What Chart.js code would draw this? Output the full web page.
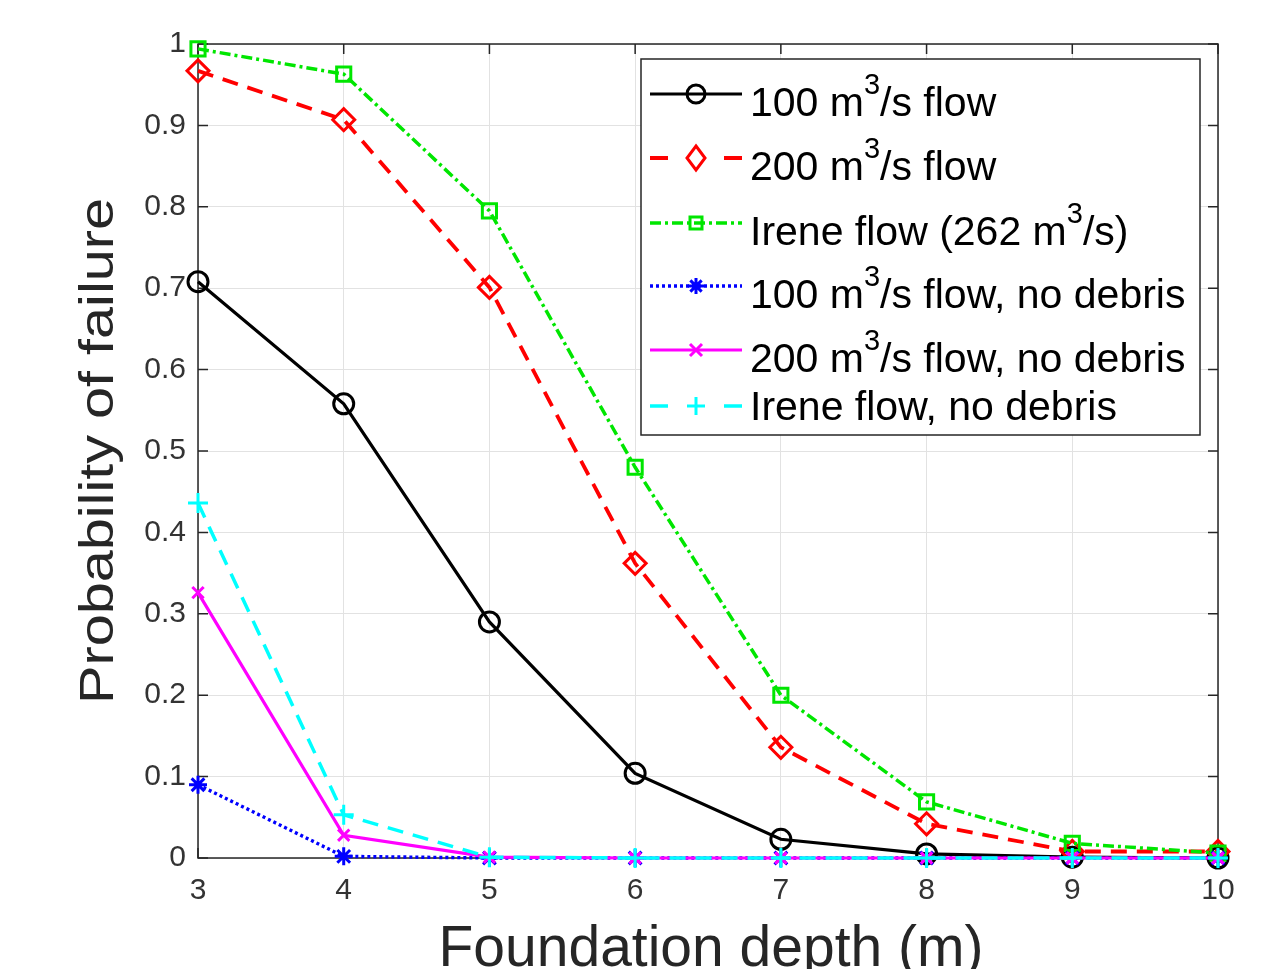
<!DOCTYPE html>
<html>
<head>
<meta charset="utf-8">
<script src="https://cdn.jsdelivr.net/npm/chart.js@4.4.1/dist/chart.umd.min.js"></script>
<style>
html,body{margin:0;padding:0;background:#fff;}
canvas{display:block;}
</style>
</head>
<body>
<canvas id="c" width="1273" height="969"></canvas>
<script>
// ---- Data ----
const depths = ['3', '4', '5', '6', '7', '8', '9', '10'];
const flow100 = [0.708, 0.558, 0.290, 0.104, 0.023, 0.005, 0.001, 0.000];
const flow200 = [0.967, 0.907, 0.701, 0.362, 0.136, 0.042, 0.008, 0.008];
const flowIrene = [0.994, 0.963, 0.795, 0.480, 0.200, 0.069, 0.018, 0.006];
const flow100NoDebris = [0.090, 0.002, 0.000, 0.000, 0.000, 0.000, 0.000, 0.000];
const flow200NoDebris = [0.326, 0.028, 0.001, 0.000, 0.000, 0.000, 0.000, 0.000];
const flowIreneNoDebris = [0.436, 0.053, 0.001, 0.000, 0.000, 0.000, 0.000, 0.000];
const yTickLabels = ['0', '0.1', '0.2', '0.3', '0.4', '0.5', '0.6', '0.7', '0.8', '0.9', '1'];
const legendLabels = [
  '100 m^3/s flow',
  '200 m^3/s flow',
  'Irene flow (262 m^3/s)',
  '100 m^3/s flow, no debris',
  '200 m^3/s flow, no debris',
  'Irene flow, no debris'
];
const xTitle = 'Foundation depth (m)';
const yTitle = 'Probability of failure';

const FONT = '"Liberation Sans", Arial, Helvetica, sans-serif';
const AX = '#262626';

const series = [
  {data: flow100, color: '#000000', dash: [], width: 3.2, style: 'circle', r: 10, lstyle: 'circle', lr: 9},
  {data: flow200, color: '#ff0000', dash: [16, 10], width: 3.8, style: 'rectRot', r: 11, lstyle: 'diamond', lr: 12},
  {data: flowIrene, color: '#00e600', dash: [11, 4, 3, 4], width: 3.5, style: 'rect', r: 10, lstyle: 'square', lr: 6},
  {data: flow100NoDebris, color: '#0000ff', dash: [3, 3], width: 3.4, style: 'star', r: 9, lstyle: 'star', lr: 8},
  {data: flow200NoDebris, color: '#ff00ff', dash: [], width: 3.2, style: 'crossRot', r: 8, lstyle: 'x', lr: 6},
  {data: flowIreneNoDebris, color: '#00ffff', dash: [16, 10], width: 3.5, style: 'cross', r: 10, lstyle: 'plus', lr: 9}
];

const datasets = series.map((s, i) => ({
  label: legendLabels[i].replace('^3', '³'),
  data: s.data,
  borderColor: s.color,
  borderWidth: s.width,
  borderDash: s.dash,
  pointStyle: s.style,
  pointRadius: s.r,
  pointHoverRadius: s.r,
  pointBorderColor: s.color,
  pointBackgroundColor: 'rgba(0,0,0,0)',
  pointBorderWidth: 3,
  tension: 0,
  fill: false,
  clip: false,
  order: series.length - 1 - i
}));

function drawMarker(ctx, style, x, y, r, color, lw) {
  ctx.save();
  ctx.setLineDash([]);
  ctx.strokeStyle = color;
  ctx.lineWidth = lw;
  ctx.beginPath();
  if (style === 'circle') {
    ctx.arc(x, y, r, 0, Math.PI * 2);
  } else if (style === 'diamond') {
    ctx.moveTo(x, y - r); ctx.lineTo(x + r * 0.75, y); ctx.lineTo(x, y + r); ctx.lineTo(x - r * 0.75, y); ctx.closePath();
  } else if (style === 'square') {
    ctx.rect(x - r, y - r, 2 * r, 2 * r);
  } else if (style === 'star') {
    for (let k = 0; k < 4; k++) {
      const a = k * Math.PI / 4;
      ctx.moveTo(x - Math.cos(a) * r, y - Math.sin(a) * r);
      ctx.lineTo(x + Math.cos(a) * r, y + Math.sin(a) * r);
    }
  } else if (style === 'x') {
    ctx.moveTo(x - r, y - r); ctx.lineTo(x + r, y + r);
    ctx.moveTo(x + r, y - r); ctx.lineTo(x - r, y + r);
  } else if (style === 'plus') {
    ctx.moveTo(x - r, y); ctx.lineTo(x + r, y);
    ctx.moveTo(x, y - r); ctx.lineTo(x, y + r);
  }
  ctx.stroke();
  ctx.restore();
}

function drawSupText(ctx, str, x, baseline, size, supSize, supRise) {
  const parts = str.split('^');
  let cx = x;
  ctx.textAlign = 'left';
  ctx.textBaseline = 'alphabetic';
  parts.forEach((p, idx) => {
    if (idx === 0) {
      ctx.font = size + 'px ' + FONT;
      ctx.fillText(p, cx, baseline);
      cx += ctx.measureText(p).width;
    } else {
      const sup = p.charAt(0), rest = p.slice(1);
      ctx.font = supSize + 'px ' + FONT;
      ctx.fillText(sup, cx, baseline - supRise);
      cx += ctx.measureText(sup).width;
      ctx.font = size + 'px ' + FONT;
      ctx.fillText(rest, cx, baseline);
      cx += ctx.measureText(rest).width;
    }
  });
}

const framePlugin = {
  id: 'frame',
  beforeDatasetsDraw(chart) {
    const {ctx, chartArea: a, scales} = chart;
    ctx.save();
    ctx.strokeStyle = AX;
    ctx.lineWidth = 1.5;
    ctx.strokeRect(a.left, a.top, a.right - a.left, a.bottom - a.top);
    const tl = 10;
    ctx.beginPath();
    scales.x.ticks.forEach((t, i) => {
      const x = scales.x.getPixelForTick(i);
      ctx.moveTo(x, a.bottom); ctx.lineTo(x, a.bottom - tl);
      ctx.moveTo(x, a.top); ctx.lineTo(x, a.top + tl);
    });
    scales.y.ticks.forEach((t, i) => {
      const y = scales.y.getPixelForTick(i);
      ctx.moveTo(a.left, y); ctx.lineTo(a.left + tl, y);
      ctx.moveTo(a.right, y); ctx.lineTo(a.right - tl, y);
    });
    ctx.stroke();
    ctx.restore();
  },
  afterDraw(chart) {
    const {ctx, chartArea: a} = chart;
    ctx.save();
    // axis titles
    ctx.fillStyle = AX;
    ctx.font = '57px ' + FONT;
    ctx.textAlign = 'center';
    ctx.textBaseline = 'alphabetic';
    ctx.fillText(xTitle, (a.left + a.right) / 2 + 3, 966);
    ctx.save();
    ctx.translate(113, (a.top + a.bottom) / 2);
    ctx.rotate(-Math.PI / 2);
    ctx.scale(1.2, 1);
    ctx.font = '48px ' + FONT;
    ctx.fillText(yTitle, 0, 0);
    ctx.restore();

    // legend
    const bx = 641, by = 59, bw = 559, bh = 376;
    ctx.fillStyle = '#ffffff';
    ctx.fillRect(bx, by, bw, bh);
    ctx.strokeStyle = AX;
    ctx.lineWidth = 1.5;
    ctx.strokeRect(bx, by, bw, bh);
    const rows = [94, 158, 223, 286, 350, 406];
    series.forEach((s, i) => {
      const y = rows[i];
      ctx.save();
      ctx.strokeStyle = s.color;
      ctx.lineWidth = s.width;
      ctx.setLineDash(s.dash);
      ctx.beginPath();
      if (s.dash.length === 2 && s.dash[0] > 10) {
        ctx.setLineDash([]);
        ctx.moveTo(650, y); ctx.lineTo(668, y);
        ctx.moveTo(724, y); ctx.lineTo(742, y);
      } else {
        ctx.moveTo(650, y); ctx.lineTo(742, y);
      }
      ctx.stroke();
      ctx.restore();
      drawMarker(ctx, s.lstyle, 696, y, s.lr, s.color, 3);
      ctx.fillStyle = '#000000';
      const base = legendLabels[i].indexOf('^') >= 0 ? y + 22 : y + 14;
      drawSupText(ctx, legendLabels[i], 750, base, 41, 29, 22);
    });
    ctx.restore();
  }
};

new Chart(document.getElementById('c'), {
  type: 'line',
  data: {labels: depths, datasets: datasets},
  options: {
    responsive: false,
    animation: false,
    devicePixelRatio: 1,
    layout: {padding: {left: 0, right: 55, top: 44, bottom: 0}},
    plugins: {legend: {display: false}, tooltip: {enabled: false}},
    scales: {
      x: {
        type: 'category',
        offset: false,
        grid: {color: '#e2e2e2', lineWidth: 1, drawTicks: false, offset: false},
        border: {display: false},
        ticks: {color: '#333333', font: {family: FONT, size: 30}, padding: 15, maxRotation: 0, autoSkip: false},
        afterFit(scale) { scale.height = 111; }
      },
      y: {
        type: 'linear',
        min: 0, max: 1,
        grid: {color: '#e2e2e2', lineWidth: 1, drawTicks: false},
        border: {display: false},
        ticks: {
          stepSize: 0.1,
          color: '#333333',
          font: {family: FONT, size: 30},
          padding: 12,
          callback: (v, i) => yTickLabels[i]
        },
        afterFit(scale) { scale.width = 198; }
      }
    }
  },
  plugins: [framePlugin]
});
</script>
</body>
</html>
